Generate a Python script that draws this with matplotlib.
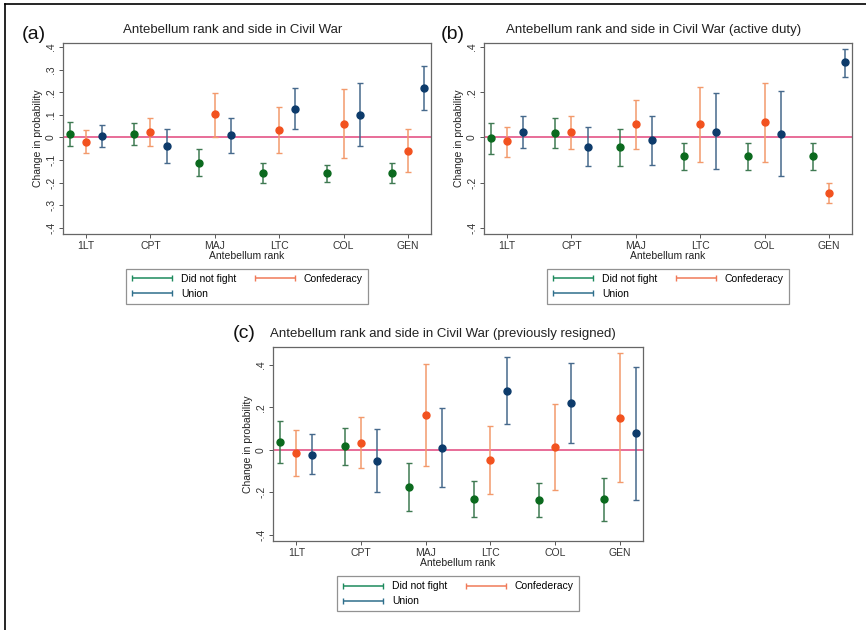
"""Antebellum rank and side in Civil War - three panels of point estimates with CIs"""

import numpy as np
from matplotlib import pyplot as plt
from matplotlib.lines import Line2D
from matplotlib.container import ErrorbarContainer
from matplotlib.legend_handler import HandlerErrorbar

plt.rcParams['font.family'] = ['Liberation Sans', 'DejaVu Sans']

ranks = ['1LT', 'CPT', 'MAJ', 'LTC', 'COL', 'GEN']
sides = ['Did not fight', 'Confederacy', 'Union']

# panel (a): all officers
a_est = {'Did not fight': [0.014, 0.014, -0.111, -0.156, -0.159, -0.158],
         'Confederacy': [-0.018, 0.026, 0.102, 0.032, 0.061, -0.058],
         'Union': [0.005, -0.039, 0.010, 0.127, 0.099, 0.218]}
a_lo = {'Did not fight': [-0.037, -0.035, -0.171, -0.203, -0.199, -0.203],
        'Confederacy': [-0.070, -0.036, 0.004, -0.070, -0.092, -0.153],
        'Union': [-0.043, -0.115, -0.067, 0.037, -0.036, 0.120]}
a_hi = {'Did not fight': [0.068, 0.065, -0.051, -0.111, -0.120, -0.112],
        'Confederacy': [0.033, 0.086, 0.197, 0.134, 0.214, 0.036],
        'Union': [0.056, 0.039, 0.086, 0.217, 0.239, 0.316]}

# panel (b): active duty
b_est = {'Did not fight': [-0.004, 0.020, -0.043, -0.080, -0.080, -0.080],
         'Confederacy': [-0.017, 0.023, 0.058, 0.058, 0.067, -0.246],
         'Union': [0.026, -0.040, -0.012, 0.026, 0.017, 0.331]}
b_lo = {'Did not fight': [-0.073, -0.045, -0.126, -0.142, -0.142, -0.142],
        'Confederacy': [-0.084, -0.049, -0.049, -0.108, -0.108, -0.290],
        'Union': [-0.045, -0.126, -0.120, -0.140, -0.168, 0.266]}
b_hi = {'Did not fight': [0.062, 0.084, 0.039, -0.023, -0.023, -0.023],
        'Confederacy': [0.048, 0.096, 0.166, 0.221, 0.241, -0.203],
        'Union': [0.096, 0.046, 0.096, 0.195, 0.206, 0.391]}

# panel (c): previously resigned
c_est = {'Did not fight': [0.035, 0.017, -0.175, -0.233, -0.238, -0.233],
         'Confederacy': [-0.014, 0.031, 0.164, -0.049, 0.014, 0.151],
         'Union': [-0.022, -0.052, 0.009, 0.279, 0.220, 0.079]}
c_lo = {'Did not fight': [-0.063, -0.069, -0.287, -0.318, -0.318, -0.335],
        'Confederacy': [-0.121, -0.087, -0.076, -0.209, -0.189, -0.153],
        'Union': [-0.116, -0.198, -0.176, 0.120, 0.031, -0.235]}
c_hi = {'Did not fight': [0.134, 0.104, -0.063, -0.148, -0.154, -0.131],
        'Confederacy': [0.093, 0.153, 0.405, 0.113, 0.216, 0.457],
        'Union': [0.074, 0.098, 0.195, 0.438, 0.409, 0.392]}

bar_col = {'Did not fight': '#3f7a52', 'Confederacy': '#f39a6c', 'Union': '#46698c'}
dot_col = {'Did not fight': '#0b6a1e', 'Confederacy': '#f2521f', 'Union': '#0d3b6b'}
leg_col = {'Did not fight': '#1c8a5c', 'Confederacy': '#f07a58', 'Union': '#2f6f8c'}
offset = {'Did not fight': -0.25, 'Confederacy': 0.0, 'Union': 0.25}

fig = plt.figure(figsize=(8.66, 6.30), dpi=100)


def panel(rect, est, lo, hi, title, ylim, yticks, ylabels, tag, tagpos, title_x=0.46):
    ax = fig.add_axes(rect)
    x = np.arange(1, len(ranks) + 1)
    ax.axhline(0, color='#e2457c', lw=1.1, zorder=1)
    for s in sides:
        e = np.array(est[s])
        yerr = [e - np.array(lo[s]), np.array(hi[s]) - e]
        ax.errorbar(x + offset[s], e, yerr=yerr, fmt='none', ecolor=bar_col[s],
                    elinewidth=1.1, capsize=2.5, capthick=1.0, zorder=2)
        ax.plot(x + offset[s], e, 'o', color=dot_col[s], ms=5, zorder=3)
    ax.set_xlim(0.64, 6.36)
    ax.set_ylim(*ylim)
    ax.set_xticks(x)
    ax.set_xticklabels(ranks, fontsize=7.5, color='#333333')
    ax.set_yticks(yticks)
    ax.set_yticklabels(ylabels, fontsize=7.5, color='#333333', rotation=90, va='center')
    ax.tick_params(length=3, width=0.7, color='#555555', pad=2)
    for sp in ax.spines.values():
        sp.set_color('#666666')
        sp.set_linewidth(0.9)
    ax.set_xlabel('Antebellum rank', fontsize=7.5, labelpad=0, color='#222222')
    ax.set_ylabel('Change in probability', fontsize=7.5, labelpad=2, color='#222222')
    ax.set_title(title, fontsize=9.5, pad=7, x=title_x, color='#222222')
    fig.text(tagpos[0], tagpos[1], tag, fontsize=14, color='#111111')

    # legend handles: horizontal bars with caps
    handles = {}
    for s in sides:
        handles[s] = ax.errorbar([np.nan], [np.nan], xerr=[0.1], fmt='none',
                                 ecolor=leg_col[s], elinewidth=1.1, capsize=2,
                                 capthick=1.0)
    order = [sides[0], sides[2], sides[1]]
    leg = ax.legend([handles[s] for s in order], order, loc='upper center',
                    bbox_to_anchor=(0.5, -0.155), ncol=2, fontsize=7.5, frameon=True,
                    fancybox=False, edgecolor='#777777', handlelength=4.0,
                    handletextpad=0.8, columnspacing=1.7, borderpad=0.5,
                    labelspacing=0.45,
                    handler_map={ErrorbarContainer: HandlerErrorbar(xerr_size=1.9)})
    leg.get_frame().set_linewidth(0.9)
    ax.set_xlim(0.64, 6.36)
    ax.set_ylim(*ylim)
    return ax


ticks_a = [0.4, 0.3, 0.2, 0.1, 0, -0.1, -0.2, -0.3, -0.4]
labels_a = ['.4', '.3', '.2', '.1', '0', '-.1', '-.2', '-.3', '-.4']
ticks_b = [0.4, 0.2, 0, -0.2, -0.4]
labels_b = ['.4', '.2', '0', '-.2', '-.4']

panel([63 / 866, 1 - 234 / 630, 368 / 866, 191 / 630], a_est, a_lo, a_hi,
      'Antebellum rank and side in Civil War', (-0.427, 0.418), ticks_a, labels_a,
      '(a)', (22 / 866, 1 - 39 / 630))
panel([484 / 866, 1 - 234 / 630, 368 / 866, 191 / 630], b_est, b_lo, b_hi,
      'Antebellum rank and side in Civil War (active duty)', (-0.426, 0.417), ticks_b, labels_b,
      '(b)', (441 / 866, 1 - 39 / 630))
panel([273 / 866, 1 - 541 / 630, 370 / 866, 194 / 630], c_est, c_lo, c_hi,
      'Antebellum rank and side in Civil War (previously resigned)', (-0.429, 0.484),
      ticks_b, labels_b, '(c)', (233 / 866, 1 - 338 / 630))

# outer frame (top and left edges)
fig.add_artist(Line2D([5 / 866, 1], [1 - 4 / 630, 1 - 4 / 630], color='black', lw=1.2))
fig.add_artist(Line2D([5 / 866, 5 / 866], [0, 1 - 4 / 630], color='black', lw=1.2))

fig.savefig('out.png', dpi=100)
